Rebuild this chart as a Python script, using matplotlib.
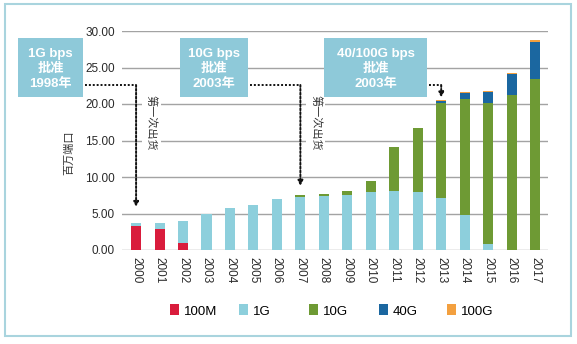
import matplotlib
matplotlib.use("Agg")
import matplotlib.pyplot as plt
import numpy as np
from matplotlib.patches import Rectangle, Patch

plt.rcParams['font.family'] = ['Liberation Sans', 'Noto Sans CJK SC', 'DejaVu Sans']

years = ['2000', '2001', '2002', '2003', '2004', '2005', '2006', '2007', '2008',
         '2009', '2010', '2011', '2012', '2013', '2014', '2015', '2016', '2017']
s_100M = [3.3, 2.9, 0.9, 0, 0, 0, 0, 0, 0, 0, 0, 0, 0, 0, 0, 0, 0, 0]
s_1G   = [0.4, 0.8, 3.1, 5.0, 5.8, 6.2, 7.0, 7.3, 7.4, 7.6, 7.9, 8.1, 8.0, 7.1, 4.8, 0.8, 0.0, 0.0]
s_10G  = [0, 0, 0, 0, 0, 0, 0, 0.3, 0.3, 0.5, 1.6, 6.0, 8.7, 13.0, 15.9, 19.3, 21.2, 23.4]
s_40G  = [0, 0, 0, 0, 0, 0, 0, 0, 0, 0, 0, 0, 0, 0.35, 0.8, 1.5, 2.9, 5.1]
s_100G = [0, 0, 0, 0, 0, 0, 0, 0, 0, 0, 0, 0, 0, 0.05, 0.15, 0.2, 0.15, 0.25]
series_names = ['100M', '1G', '10G', '40G', '100G']
colors = ['#d91c3c', '#8dcfdc', '#6e9a34', '#1b67a0', '#f3a03f']

W, H = 577, 344
fig = plt.figure(figsize=(W / 100, H / 100), dpi=100)

def fx(px):
    return px / W

def fy(py):
    return 1 - py / H

# outer border
fig.patches.append(Rectangle((fx(5), fy(336)), fx(566), 332 / H, transform=fig.transFigure,
                             fill=False, edgecolor='#a9d4de', linewidth=1.5))

ax = fig.add_axes([fx(122), fy(250), fx(548) - fx(122), fy(31) - fy(250)])
x = np.arange(len(years))
bottom = np.zeros(len(years))
for name, vals, c in zip(series_names, [s_100M, s_1G, s_10G, s_40G, s_100G], colors):
    vals = np.array(vals)
    ax.bar(x, vals, 0.43, bottom=bottom, color=c, label=name, zorder=3)
    bottom += vals
totals = bottom

ax.set_xlim(-0.6, len(years) - 0.45)
ax.set_ylim(0, 30)
ax.set_yticks(np.arange(0, 31, 5))
ax.set_yticklabels([f'{v:.2f}' for v in np.arange(0, 31, 5)], fontsize=8.5, color='#2a2a2a')
ax.set_xticks(x)
ax.set_xticklabels(years, rotation=270, fontsize=8.5, color='#2a2a2a')
ax.tick_params(length=0)
ax.tick_params(axis='y', pad=5)
ax.tick_params(axis='x', pad=5)
ax.grid(axis='y', color='#a3a3a3', linewidth=1, zorder=0)
for s in ax.spines.values():
    s.set_visible(False)

fig.text(fx(69), fy(153), '百万端口', rotation=90, fontsize=8, ha='center', va='center',
         color='#333333')

# annotation boxes
boxes = [
    (18, 83, ['1G bps', '批准', '1998年'], 0),
    (180, 248, ['10G bps', '批准', '2003年'], 7),
    (324, 427, ['40/100G bps', '批准', '2003年'], 13),
]
line_y_px = 85
for (x0, x1, lines, idx) in boxes:
    fig.patches.append(Rectangle((fx(x0), fy(97)), fx(x1 - x0), 59 / H,
                                 transform=fig.transFigure, facecolor='#8ec9d9',
                                 edgecolor='none', zorder=5))
    for k, t in enumerate(lines):
        fig.text(fx((x0 + x1) / 2), fy(54 + 15 * k), t, ha='center', va='center',
                 fontsize=9.5, fontweight='bold', color='white', zorder=6)
    inv = ax.transData.inverted()
    disp = fig.transFigure.transform((fx(x1 + 2), fy(line_y_px)))
    xd, yd = inv.transform(disp)
    top = totals[idx] + (2.2 if idx == 0 else (1.2 if idx == 7 else 0.4))
    ax.plot([xd, idx], [yd, yd], linestyle=(0, (1, 1)), color='#111111', lw=1.4,
            clip_on=False, zorder=6)
    ax.annotate('', xy=(idx, top), xytext=(idx, yd),
                arrowprops=dict(arrowstyle='-|>', linestyle=(0, (1, 1)), color='#111111',
                                lw=1.4, mutation_scale=7, shrinkA=0, shrinkB=0),
                zorder=6, annotation_clip=False)

# vertical "first shipment" texts
for idx in [0, 7]:
    ax.text(idx + 0.65, 17.4, '第一次出货', rotation=270, fontsize=8, ha='center',
            va='center', color='#333333', zorder=4,
            bbox=dict(facecolor='white', edgecolor='none', pad=3))

# legend entries
leg_x = [170, 239, 309, 379, 447]
for name, c, lx in zip(series_names, colors, leg_x):
    fig.legend(handles=[Patch(facecolor=c, edgecolor='none')], labels=[name],
               loc='center left', bbox_to_anchor=(fx(lx), fy(311)), frameon=False,
               fontsize=9.5, handlelength=0.7, handleheight=0.9, handletextpad=0.35,
               borderpad=0, borderaxespad=0)

fig.savefig('out.png', dpi=100)
